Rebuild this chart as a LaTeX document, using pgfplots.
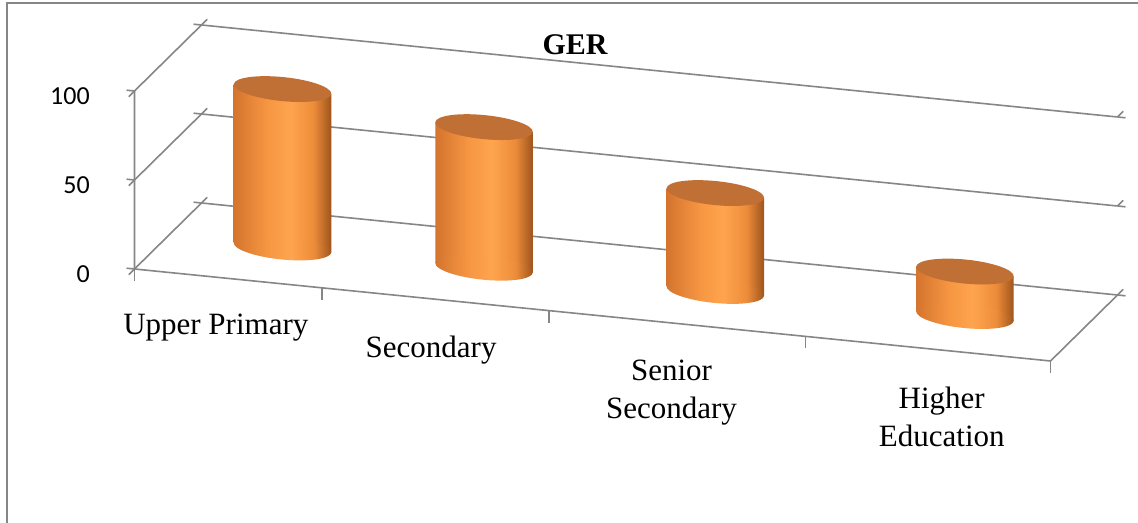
\documentclass[border=0pt]{standalone}
\usepackage{pgfplots}
\pgfplotsset{compat=1.18}
\usepackage{fontspec}
\setmainfont{Liberation Serif}
\newfontfamily\carlito{Carlito}
\definecolor{gridc}{RGB}{134,134,134}
\definecolor{cL}{RGB}{212,116,46}
\definecolor{cM}{RGB}{246,150,66}
\definecolor{cH}{RGB}{255,164,78}
\definecolor{cM2}{RGB}{236,140,58}
\definecolor{cR}{RGB}{158,84,28}
\definecolor{ctop}{RGB}{192,112,52}
\pgfdeclarehorizontalshading{cyl}{100bp}{color(0bp)=(cL); color(25bp)=(cL); color(42bp)=(cM); color(54bp)=(cH); color(66bp)=(cM2); color(75bp)=(cR); color(100bp)=(cR)}
\pgfdeclareplotmark{cyltop}{\pgfpathellipse{\pgfpointorigin}{\pgfpoint{24.38pt}{-2.45pt}}{\pgfpoint{0.6pt}{5.97pt}}\pgfsetfillcolor{ctop}\pgfusepath{fill}}
\pgfdeclareplotmark{cylbot}{\pgfpathellipse{\pgfpointorigin}{\pgfpoint{24.38pt}{-2.45pt}}{\pgfpoint{0.6pt}{5.97pt}}\pgfshadepath{cyl}{0}\pgfusepath{discard}}
\begin{document}
\begin{tikzpicture}
\useasboundingbox (0,0) rectangle (569pt,261.5pt);
\draw[gridc, line width=0.9pt] (3.5pt,-5pt) -- (3.5pt,260pt) -- (600pt,260pt);
\begin{axis}[
 at={(67.25pt,127pt)}, anchor=origin,
 x={(114.5pt,-11.5pt)}, y={(33.5pt,33pt)}, z={(0pt,0.89pt)},
 xmin=0,xmax=4,ymin=0,ymax=1,zmin=0,zmax=100,
 clip=false,
 axis line style={draw=none},
 zmajorgrids, xmajorgrids=false, ymajorgrids=false,
 major grid style={gridc, line width=0.8pt},
 ztick={0,50,100},
 ytick=\empty,
 xtick={0.38,1.32,2.37,3.55},
 xticklabels={Upper Primary, Secondary, {Senior\\Secondary}, {Higher\\Education}},
 xticklabel style={align=center, font=\fontsize{15.5}{19}\selectfont, anchor=north, yshift=-12pt},
 x tick style={draw=none},
 z tick style={gridc, line width=0.8pt},
 tick align=outside, major tick length=4pt,
 zticklabel style={font=\carlito\fontsize{13}{15}\selectfont, anchor=east, xshift=-16pt},
 /pgf/number format/assume math mode=true,
]
\draw[gridc, line width=0.8pt] (axis cs:0,0,100) -- (axis cs:0,0,0) -- (axis cs:4,0,0) -- (axis cs:4,1,0);
\pgfplotsinvokeforeach{0,0.82,1.81,2.93,4}{\draw[gridc, line width=0.8pt] (axis cs:#1,0,0) -- ++(0pt,-6pt);}
\addplot3[only marks, mark=cylbot] coordinates {(0.5,0.5,0) (1.38,0.5,0) (2.39,0.5,0) (3.48,0.5,0)};
\addplot3[draw=none, shading=cyl] coordinates {(0.287,0.5,0) (0.287,0.5,89) (0.713,0.5,89) (0.713,0.5,0)} -- cycle;
\addplot3[draw=none, shading=cyl] coordinates {(1.167,0.5,0) (1.167,0.5,79) (1.593,0.5,79) (1.593,0.5,0)} -- cycle;
\addplot3[draw=none, shading=cyl] coordinates {(2.177,0.5,0) (2.177,0.5,55) (2.603,0.5,55) (2.603,0.5,0)} -- cycle;
\addplot3[draw=none, shading=cyl] coordinates {(3.267,0.5,0) (3.267,0.5,25) (3.693,0.5,25) (3.693,0.5,0)} -- cycle;
\addplot3[only marks, mark=cyltop] coordinates {(0.5,0.5,89) (1.38,0.5,79) (2.39,0.5,55) (3.48,0.5,25)};
\end{axis}
\node[font=\bfseries\fontsize{15}{18}\selectfont] at (287.5pt,239pt) {GER};
\end{tikzpicture}
\end{document}
